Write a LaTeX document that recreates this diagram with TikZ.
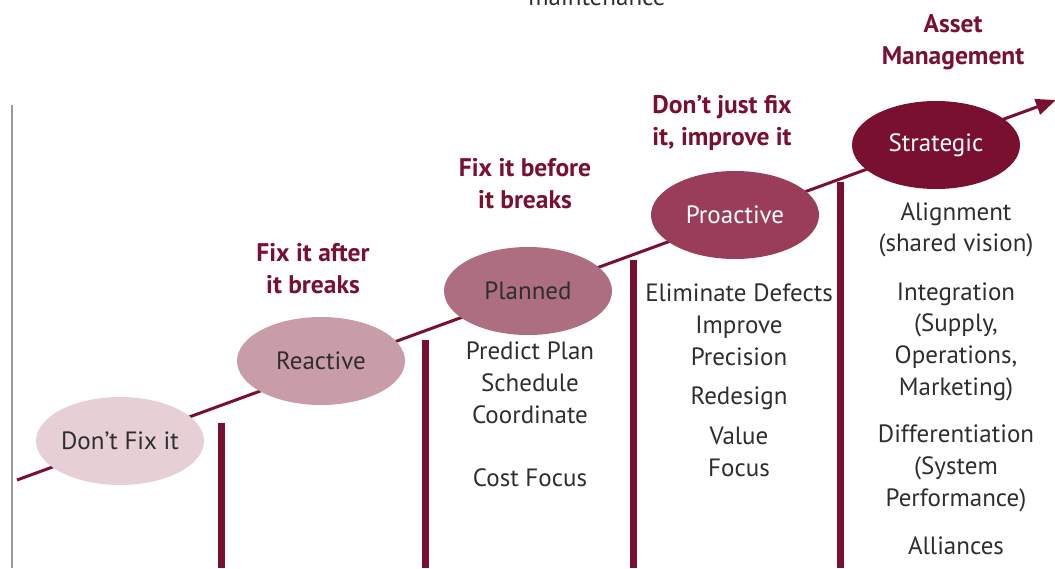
\documentclass[tikz,border=0pt]{standalone}
\usepackage{fontspec}
\setmainfont{PT Sans}
\usetikzlibrary{shapes.geometric,arrows.meta}
\definecolor{wine}{HTML}{7A1030}
\definecolor{txt}{HTML}{2E2E2E}
\definecolor{c1}{HTML}{E6D0D6}
\definecolor{c2}{HTML}{C99DA8}
\definecolor{c3}{HTML}{AD6E7F}
\definecolor{c4}{HTML}{9A3D58}
\definecolor{c5}{HTML}{7A1030}
\tikzset{
  stage/.style={ellipse, minimum width=168pt, minimum height=88pt, inner sep=0pt, text=txt, font=\fontsize{25}{28}\selectfont},
  motto/.style={text=wine, align=center, font=\fontsize{25.5}{32}\bfseries\selectfont},
  item/.style={text=txt, anchor=base, font=\fontsize{25}{32}\selectfont},
  bar/.style={wine, line width=7pt},
}
\begin{document}
\begin{tikzpicture}[x=1pt,y=-1pt]
\useasboundingbox (0,0) rectangle (1055,568);
% left gray rule
\coordinate (gt) at (12,105); \coordinate (gb) at (12,568);
\draw[gray!80, line width=2pt] (gt) -- (gb);
% top partial text
\node[item, text=txt] (maint) at (597,5) {maintenance};
% timeline
\coordinate (ls) at (17,480);
\coordinate (le) at (1056,100);
\draw[wine, line width=3pt, -{Triangle[length=20pt,width=16pt]}] (ls) -- (le);
% stages
\node[stage, fill=c1] (s1) at (120,441) {Don’t Fix it};
\node[stage, fill=c2] (s2) at (321,361) {Reactive};
\node[stage, fill=c3] (s3) at (528,291) {Planned};
\node[stage, fill=c4, text=white] (s4) at (735,215) {Proactive};
\node[stage, fill=c5, text=white] (s5) at (936,145) {Strategic};
% bars
\coordinate (b1t) at (221,423); \coordinate (b1b) at (221,568);
\coordinate (b2t) at (425,340); \coordinate (b2b) at (425,568);
\coordinate (b3t) at (633,260); \coordinate (b3b) at (633,568);
\coordinate (b4t) at (840,182); \coordinate (b4b) at (840,568);
\draw[bar] (b1t) -- (b1b);
\draw[bar] (b2t) -- (b2b);
\draw[bar] (b3t) -- (b3b);
\draw[bar] (b4t) -- (b4b);
% mottos
\node[motto] (m2) at (313,269) {Fix it after\\it breaks};
\node[motto] (m3) at (525,184) {Fix it before\\it breaks};
\node[motto] (m4) at (722,123) {Don’t just fix\\it, improve it};
\node[motto] (m5) at (953,42) {Asset\\Management};
% planned items
\node[item] (p1) at (530,359) {Predict Plan};
\node[item] (p2) at (530,391) {Schedule};
\node[item] (p3) at (530,423) {Coordinate};
\node[item] (p4) at (530,486) {Cost Focus};
% proactive items
\node[item] (q1) at (739,301) {Eliminate Defects};
\node[item] (q2) at (739,333) {Improve};
\node[item] (q3) at (739,365) {Precision};
\node[item] (q4) at (739,404) {Redesign};
\node[item] (q5) at (739,444) {Value};
\node[item] (q6) at (739,476) {Focus};
% strategic items
\node[item] (r1) at (956,220) {Alignment};
\node[item] (r2) at (956,251) {(shared vision)};
\node[item] (r3) at (956,300) {Integration};
\node[item] (r4) at (956,331) {(Supply,};
\node[item] (r5) at (956,363) {Operations,};
\node[item] (r6) at (956,395) {Marketing)};
\node[item] (r7) at (956,442) {Differentiation};
\node[item] (r8) at (956,474) {(System};
\node[item] (r9) at (956,506) {Performance)};
\node[item] (r10) at (956,554) {Alliances};
\end{tikzpicture}
\end{document}
